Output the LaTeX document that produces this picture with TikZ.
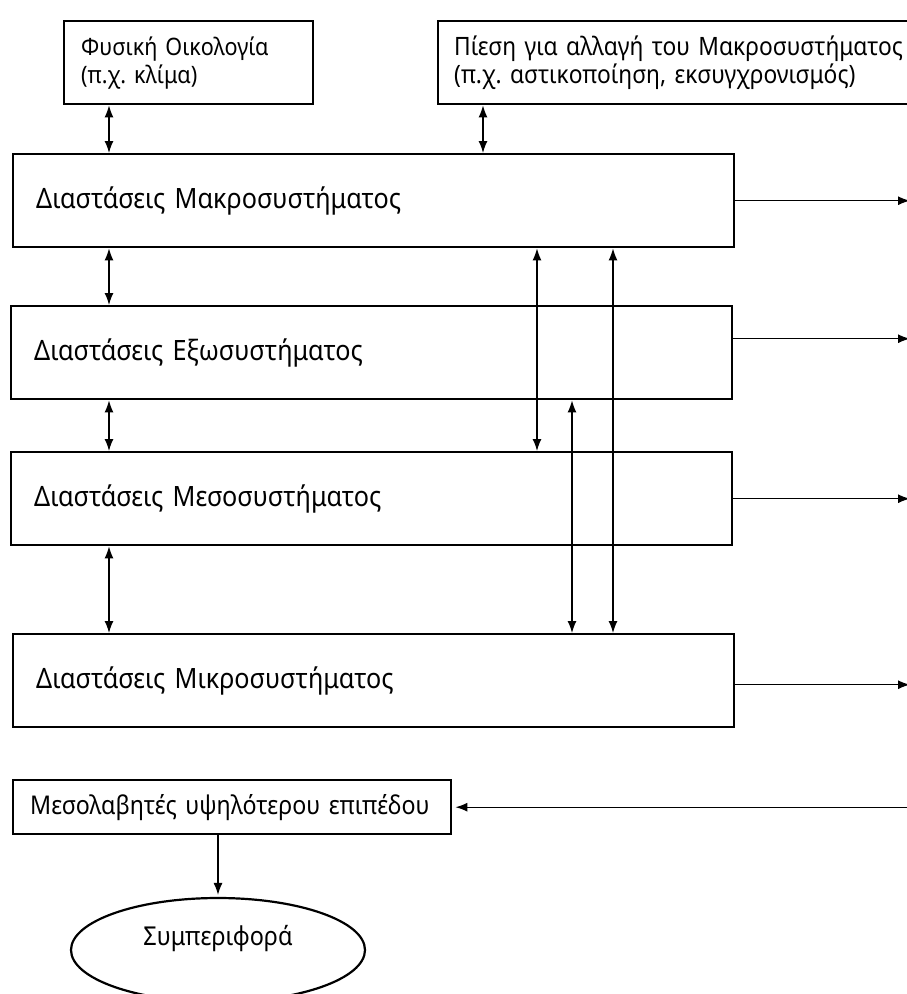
\documentclass[tikz,border=0pt]{standalone}
\usepackage{fontspec}
\setmainfont{Noto Sans}
\newfontfamily\narrowfont{Noto Sans}[FakeStretch=0.9]
\usepackage{tikz}
\usetikzlibrary{positioning,arrows.meta,shapes.geometric}
\frenchspacing
\tikzset{
    x=1pt,
    y=-1pt,
    >={Latex[length=12pt,width=9pt]},
    dimbox/.style = {
        draw,
        shape=rectangle,
        anchor=north west,
        minimum height=93pt,
        text width=675pt,
        inner xsep=23pt,
        align=left,
        line width=2.4pt,
        font=\narrowfont\fontsize{28}{33}\selectfont
    },
    smallbox/.style = {
        draw,
        shape=rectangle,
        anchor=north west,
        minimum height=83pt,
        align=left,
        line width=2.4pt,
        font=\narrowfont\fontsize{24}{28}\selectfont
    },
    goal/.style = {
        draw,
        shape=ellipse,
        minimum width=294pt,
        minimum height=104pt,
        inner sep=0pt,
        text depth=30pt,
        line width=2.2pt,
        font=\narrowfont\fontsize{26}{28}\selectfont
    },
    link/.style = {
        draw,
        line width=1.3pt
    },
}

\begin{document}
\begin{tikzpicture}
    \useasboundingbox (0,0) rectangle (907,994);
    \clip (0,0) rectangle (907,994);

    % outer influences
    \node[smallbox, text width=215pt, inner xsep=17pt] (ecology) at (63,20) {Φυσική Οικολογία\\(π.χ. κλίμα)};
    \node[smallbox, text width=540pt, inner xsep=16pt, font=\narrowfont\fontsize{25.3}{28}\selectfont] (pressure) at (437,20) {Πίεση για αλλαγή του Μακροσυστήματος\\(π.χ. αστικοποίηση, εκσυγχρονισμός)};

    % the four systems
    \node[dimbox] (macro) at (12,153) {Διαστάσεις Μακροσυστήματος};
    \node[dimbox] (exo) at (10,305) {Διαστάσεις Εξωσυστήματος};
    \node[dimbox] (meso) at (10,451) {Διαστάσεις Μεσοσυστήματος};
    \node[dimbox] (micro) at (12,633) {Διαστάσεις Μικροσυστήματος};

    \node[smallbox, text width=404pt, inner xsep=17pt, minimum height=54pt, font=\narrowfont\fontsize{25.8}{28}\selectfont] (mediators) at (12,779) {Μεσολαβητές υψηλότερου επιπέδου};
    \node[goal] (behaviour) at (218,950) {Συμπεριφορά};

    \coordinate (leftcol) at (109,0);
    \coordinate (presscol) at (483,0);
    \coordinate (colA) at (537,0);
    \coordinate (colB) at (572,0);
    \coordinate (colC) at (613,0);
    \coordinate (edge) at (910,0);
    \coordinate (exoout) at ([yshift=14pt]exo.east);
    \coordinate (microout) at ([yshift=-4pt]micro.east);

    \path[link, <->] (leftcol |- ecology.south) -- (leftcol |- macro.north);
    \path[link, <->] (presscol |- pressure.south) -- (presscol |- macro.north);
    \path[link, <->] (leftcol |- macro.south) -- (leftcol |- exo.north);
    \path[link, <->] (leftcol |- exo.south) -- (leftcol |- meso.north);
    \path[link, <->] (leftcol |- meso.south) -- (leftcol |- micro.north);

    \path[link, <->] (colA |- macro.south) -- (colA |- meso.north);
    \path[link, <->] (colC |- macro.south) -- (colC |- micro.north);
    \path[link, <->] (colB |- exo.south) -- (colB |- micro.north);

    \path[link, ->] (macro.east) -- (edge |- macro.east);
    \path[link, ->] (exoout) -- (edge |- exoout);
    \path[link, ->] (meso.east) -- (edge |- meso.east);
    \path[link, ->] (microout) -- (edge |- microout);

    \path[link, ->, shorten >=3pt] (edge |- mediators.east) -- (mediators.east);
    \path[link, ->, shorten >=2pt] (behaviour.north |- mediators.south) -- (behaviour.north);
\end{tikzpicture}
\end{document}
